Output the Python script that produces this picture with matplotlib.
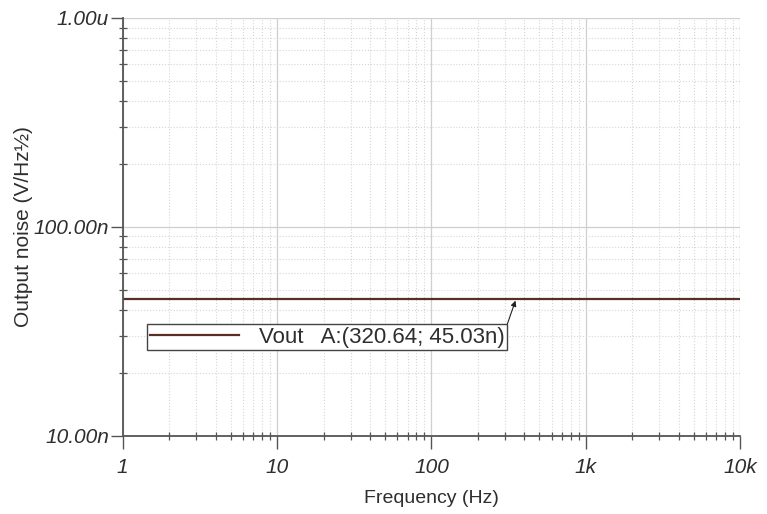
import matplotlib
matplotlib.use("Agg")
import matplotlib.pyplot as plt
import numpy as np
from matplotlib.ticker import FixedLocator, LogLocator, NullFormatter

plt.rcParams["font.family"] = ["Liberation Sans", "DejaVu Sans"]

# trace data (flat noise floor)
freq_hz = [1.0, 10000.0]
vout_noise = [45.03e-9, 45.03e-9]

# cursor A
cursor_freq = 320.64
cursor_val = 45.03e-9

x_ticks = [1, 10, 100, 1000, 10000]
x_tick_labels = ["1", "10", "100", "1k", "10k"]
y_ticks = [10e-9, 100e-9, 1e-6]
y_tick_labels = ["10.00n", "100.00n", "1.00u"]

LINE_COLOR = "#5a2d26"
AXIS_COLOR = "#555555"
TEXT_COLOR = "#2e2e2e"

fig = plt.figure(figsize=(7.67, 5.14), dpi=100)
ax = fig.add_axes([0.160, 0.152, 0.805, 0.813])

ax.plot(freq_hz, vout_noise, color=LINE_COLOR, linewidth=1.6,
        label=f"Vout   A:({cursor_freq:.2f}; {cursor_val * 1e9:.2f}n)")

ax.set_xscale("log")
ax.set_yscale("log")
ax.set_xlim(x_ticks[0], x_ticks[-1])
ax.set_ylim(y_ticks[0], y_ticks[-1])

ax.xaxis.set_major_locator(FixedLocator(x_ticks))
ax.set_xticklabels(x_tick_labels)
ax.yaxis.set_major_locator(FixedLocator(y_ticks))
ax.set_yticklabels(y_tick_labels)
ax.xaxis.set_minor_locator(LogLocator(base=10, subs=np.arange(2, 10)))
ax.yaxis.set_minor_locator(LogLocator(base=10, subs=np.arange(2, 10)))
ax.xaxis.set_minor_formatter(NullFormatter())
ax.yaxis.set_minor_formatter(NullFormatter())

ax.grid(which="major", color="#cfcfcf", linewidth=0.9)
ax.grid(which="minor", color="#d6d6d6", linewidth=0.8, linestyle=":")

for side in ("top", "right"):
    ax.spines[side].set_visible(False)
for side in ("left", "bottom"):
    ax.spines[side].set_color(AXIS_COLOR)
    ax.spines[side].set_linewidth(1.3)

ax.tick_params(which="major", direction="out", length=9, width=1.0,
               color=AXIS_COLOR, labelcolor=TEXT_COLOR, labelsize=15)
ax.tick_params(which="minor", direction="inout", length=6, width=0.9,
               color=AXIS_COLOR)
for lab in ax.get_xticklabels() + ax.get_yticklabels():
    lab.set_fontstyle("italic")
ax.tick_params(axis="x", pad=7)
ax.tick_params(axis="y", pad=1)

ax.set_xlabel("Frequency (Hz)", fontsize=14, color=TEXT_COLOR, labelpad=9)
ax.set_ylabel("Output noise (V/Hz½)", fontsize=15, color=TEXT_COLOR, labelpad=0)

leg = ax.legend(loc="lower left", bbox_to_anchor=(0.04, 0.205), borderaxespad=0,
                fancybox=False, framealpha=1, edgecolor="#444444",
                fontsize=16, handlelength=4.0, borderpad=0.12,
                handletextpad=0.9)
leg.get_frame().set_linewidth(1.0)
for t in leg.get_texts():
    t.set_color(TEXT_COLOR)

fig.canvas.draw()
bb = leg.get_window_extent().transformed(ax.transAxes.inverted())
ax.annotate("", xy=(cursor_freq * 1.1, cursor_val), xytext=(bb.x1, bb.y1),
            textcoords="axes fraction",
            arrowprops=dict(arrowstyle="-|>", color="#222222", lw=0.8,
                            mutation_scale=8, shrinkA=0, shrinkB=1))

fig.savefig("out.png", dpi=100)
